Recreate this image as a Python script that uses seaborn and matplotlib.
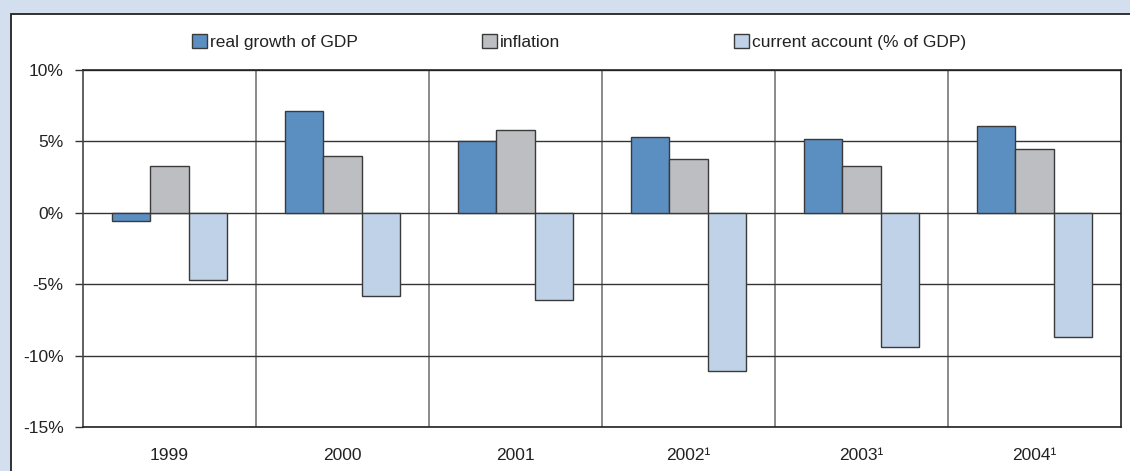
import numpy as np
import pandas as pd
import matplotlib
matplotlib.use("Agg")
import matplotlib.pyplot as plt
from matplotlib.patches import Rectangle
from matplotlib.ticker import MultipleLocator, FuncFormatter
import seaborn as sns

# data (% values)
years = ["1999", "2000", "2001", "2002", "2003", "2004"]
year_labels = ["1999", "2000", "2001", "2002\u00b9", "2003\u00b9", "2004\u00b9"]
series_names = ["real growth of GDP", "inflation", "current account (% of GDP)"]
gdp_growth = [-0.6, 7.1, 5.0, 5.3, 5.2, 6.1]
inflation = [3.3, 4.0, 5.8, 3.8, 3.3, 4.5]
current_account = [-4.7, -5.8, -6.1, -11.1, -9.4, -8.7]
colors = ["#5b8fc2", "#bdbec2", "#c0d2e7"]

df = pd.DataFrame({
    "year": years * 3,
    "series": np.repeat(series_names, len(years)),
    "value": gdp_growth + inflation + current_account,
})

sns.set_theme(style="white")
plt.rcParams["font.family"] = ["Liberation Sans", "DejaVu Sans"]

fig = plt.figure(figsize=(11.3, 4.71), dpi=100)
fig.patch.set_facecolor("#d3dfee")
# white panel with dark border on top/left
panel = Rectangle((11 / 1130, -0.05), 1.1, (471 - 14) / 471 + 0.05,
                  transform=fig.transFigure, facecolor="white",
                  edgecolor="#222222", linewidth=1.3, zorder=-10)
fig.patches.append(panel)

ax = fig.add_axes([83 / 1130, 44 / 471, (1121 - 83) / 1130, (427 - 70) / 471])
ax.set_zorder(5)
ax.set_facecolor("white")

sns.barplot(data=df, x="year", y="value", hue="series", palette=colors,
            saturation=1, width=0.66, edgecolor="#3a3a3a", linewidth=1.0,
            ax=ax, zorder=3)

handles, labels = ax.get_legend_handles_labels()
if ax.get_legend() is not None:
    ax.get_legend().remove()

ax.set_ylim(-15, 10)
ax.set_xlim(-0.5, 5.5)
ax.yaxis.set_major_locator(MultipleLocator(5))
ax.yaxis.set_major_formatter(FuncFormatter(lambda v, p: f"{v:.0f}%"))
ax.set_xticks(range(len(years)))
ax.set_xticklabels(year_labels)
ax.set_xticks(np.arange(0.5, 5.5, 1), minor=True)
ax.grid(True, axis="y", which="major", color="#333333", linewidth=1.0, zorder=1)
ax.grid(True, axis="x", which="minor", color="#777777", linewidth=1.2, zorder=1)
ax.grid(False, axis="x", which="major")
ax.set_axisbelow(True)
ax.tick_params(axis="y", which="major", left=True, length=6, width=1,
               color="#333333", pad=8, labelsize=12.5, labelcolor="#222222")
ax.tick_params(axis="x", which="both", bottom=False, pad=9, labelsize=12.5,
               labelcolor="#222222")
ax.set_xlabel("")
ax.set_ylabel("")
for name, sp in ax.spines.items():
    sp.set_visible(True)
    sp.set_color("#222222")
    sp.set_linewidth(1.2)
ax.spines["left"].set_color("#444444")

# legend entries spread across the top as in the original
legend_x = [192 / 1130, 482 / 1130, 734 / 1130]
for h, lab, x in zip(handles, labels, legend_x):
    leg = fig.legend([h], [lab], loc="center left", bbox_to_anchor=(x, 1 - 42 / 471),
                     frameon=False, fontsize=12.5, handlelength=0.85, handleheight=0.85,
                     handletextpad=0.2, borderpad=0, borderaxespad=0)
    for t in leg.get_texts():
        t.set_color("#222222")

fig.savefig("out.png", dpi=100, facecolor=fig.get_facecolor())
